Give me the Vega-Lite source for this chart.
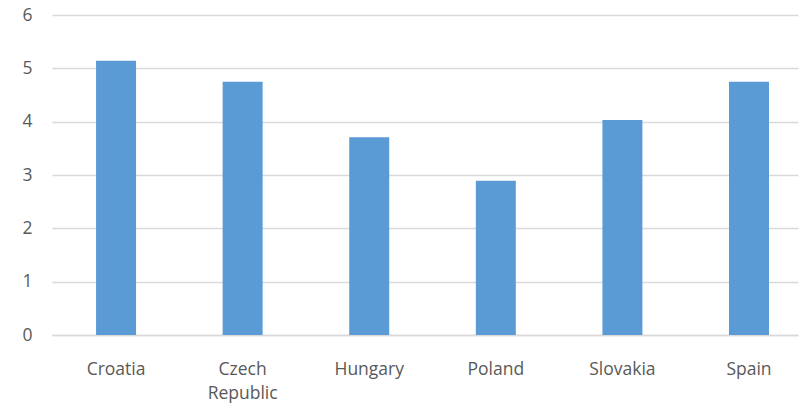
{
  "$schema": "https://vega.github.io/schema/vega-lite/v6.json",
  "width": 746,
  "height": 320,
  "padding": {"left": 52, "top": 15, "right": 1, "bottom": 76},
  "autosize": {"type": "none"},
  "background": "white",
  "config": {"view": {"stroke": null}, "font": "Open Sans"},
  "data": {"values": [
    {"country": "Croatia", "value": 5.14},
    {"country": "Czech Republic", "value": 4.75},
    {"country": "Hungary", "value": 3.71},
    {"country": "Poland", "value": 2.89},
    {"country": "Slovakia", "value": 4.03},
    {"country": "Spain", "value": 4.75}
  ]},
  "mark": {"type": "bar", "color": "#5b9bd5"},
  "encoding": {
    "x": {
      "field": "country", "type": "nominal", "sort": null,
      "scale": {"paddingInner": 0.684, "paddingOuter": 0.2885, "align": 0.603},
      "axis": {
        "title": null, "labelAngle": 0, "ticks": false,
        "domainColor": "#d9d9d9", "domainWidth": 1.3,
        "labelPadding": 25, "labelFontSize": 17.5, "labelColor": "#595959",
        "labelFont": "Open Sans", "labelLineHeight": 24, "labelOverlap": false,
        "labelExpr": "datum.label == 'Czech Republic' ? ['Czech', 'Republic'] : datum.label"
      }
    },
    "y": {
      "field": "value", "type": "quantitative",
      "scale": {"domain": [0, 6], "nice": false},
      "axis": {
        "title": null, "values": [0,1,2,3,4,5,6],
        "domain": false, "ticks": false, "labelOverlap": false,
        "gridColor": "#d9d9d9", "gridWidth": 1.3,
        "labelPadding": 20, "labelFontSize": 17.5, "labelColor": "#595959",
        "labelFont": "Open Sans"
      }
    }
  }
}
